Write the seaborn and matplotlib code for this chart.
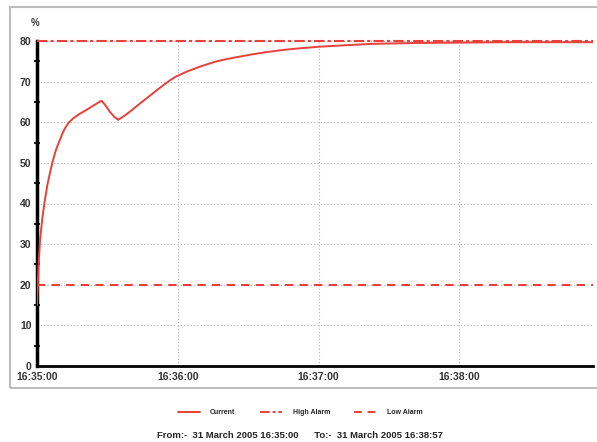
import matplotlib
matplotlib.use("Agg")
import matplotlib.pyplot as plt
import matplotlib.patches as mpatches
from matplotlib.lines import Line2D
import pandas as pd
import seaborn as sns

# ── data (seconds after 16:35:00, percent) ───────────────────────────────
SECONDS = [0, 0.6, 1.3, 2.3, 3.4, 4.4, 5.5, 6.6, 7.7, 8.8, 9.8, 10.8, 11.9,
           13.5, 15.5, 18, 21, 24, 27.5, 29, 31, 33, 34.6, 36.5, 39.6, 43,
           46.7, 52, 56.6, 59.4, 64, 70, 76.5, 83, 90.6, 97, 104.8, 112,
           120.4, 133, 143, 160, 180, 200, 237]
CURRENT = [15, 24, 31, 36.5, 41, 44.5, 47.5, 50.2, 52.5, 54.3, 55.7, 57.2, 58.5,
           59.9, 61, 62, 63, 64.1, 65.3, 64.3, 62.6, 61.3, 60.6, 61.3, 62.6, 64.2,
           65.9, 68.3, 70.3, 71.3, 72.5, 73.8, 75, 75.8, 76.6, 77.2, 77.8, 78.2,
           78.6, 79, 79.3, 79.5, 79.6, 79.7, 79.7]
HIGH_ALARM = 80
LOW_ALARM = 20
X_TICKS = [0, 60, 120, 180]
X_LABELS = ["16:35:00", "16:36:00", "16:37:00", "16:38:00"]
Y_TICKS = [0, 10, 20, 30, 40, 50, 60, 70, 80]
END_SECONDS = 237
FOOTER = "From:-  31 March 2005 16:35:00      To:-  31 March 2005 16:38:57"

RED = "#e8403a"
HIGH_STYLE = (0, (5, 1.5, 1.5, 1.5))
LOW_STYLE = (0, (4, 3))

sns.set_style("white")
plt.rcParams["font.family"] = ["Liberation Sans", "DejaVu Sans"]

fig = plt.figure(figsize=(5.97, 4.42), dpi=100)
ax = fig.add_axes([37 / 597, 1 - 366 / 442, (593 - 37) / 597, (366 - 41) / 442])

# outer chart frame
fig.patches.append(mpatches.Rectangle((10 / 597, 1 - 388 / 442), 1.0, (388 - 7) / 442,
                                      transform=fig.transFigure, fill=False,
                                      edgecolor="#bdbdbd", linewidth=1.5, zorder=0))

df = pd.DataFrame({"t": SECONDS, "v": CURRENT})
sns.lineplot(data=df, x="t", y="v", ax=ax, color=RED, linewidth=1.4, zorder=4)
ax.axhline(HIGH_ALARM, color=RED, linestyle=HIGH_STYLE, linewidth=1.5, zorder=5, clip_on=False)
ax.axhline(LOW_ALARM, color=RED, linestyle=LOW_STYLE, linewidth=1.5, zorder=3)

ax.set_xlim(0, END_SECONDS)
ax.set_ylim(0, 80)
ax.set_xticks(X_TICKS)
ax.set_xticklabels(X_LABELS)
ax.set_yticks(Y_TICKS)
ax.set_yticks([5, 15, 25, 35, 45, 55, 65, 75], minor=True)
ax.set_xlabel("")
ax.set_ylabel("")

ax.set_axisbelow(True)
ax.grid(True, which="major", color="#b0b0b0", linestyle=(0, (1, 2)), linewidth=0.8)
for s in ["top", "right"]:
    ax.spines[s].set_visible(False)
ax.spines["left"].set_linewidth(2.5)
ax.spines["bottom"].set_linewidth(2.0)
ax.spines["left"].set_color("black")
ax.spines["bottom"].set_color("black")
ax.tick_params(axis="both", which="major", direction="inout", length=4, width=1.5,
               labelsize=7.5, colors="black", pad=2)
ax.tick_params(axis="y", which="minor", direction="inout", length=4, width=1.5, left=True)
for lab in ax.get_xticklabels() + ax.get_yticklabels():
    lab.set_fontweight("bold")
    lab.set_color("#333333")

fig.text(35 / 597, 1 - 23 / 442, "%", fontsize=7, fontweight="bold", color="#333333",
         ha="center", va="center")

handles = [
    Line2D([], [], color=RED, linewidth=1.4),
    Line2D([], [], color=RED, linewidth=1.4, linestyle=HIGH_STYLE),
    Line2D([], [], color=RED, linewidth=1.4, linestyle=LOW_STYLE),
]
fig.legend(handles, ["Current", "High Alarm", "Low Alarm"], loc="center",
           bbox_to_anchor=(300 / 597, 1 - 413 / 442), ncol=3, frameon=False,
           prop={"size": 5, "weight": "bold"}, handlelength=3.2, columnspacing=3.5,
           handletextpad=1.5)

fig.text(300 / 597, 1 - 436 / 442, FOOTER, fontsize=6.8, fontweight="bold",
         color="#222222", ha="center", va="center")

fig.savefig("out.png", dpi=100)
